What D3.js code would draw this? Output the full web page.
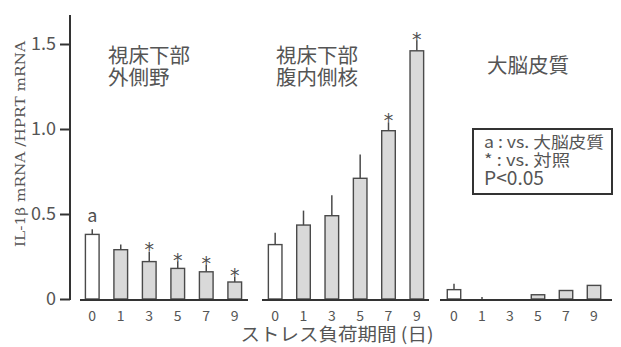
<!DOCTYPE html>
<html>
<head>
<meta charset="utf-8">
<script src="https://cdn.jsdelivr.net/npm/d3@7"></script>
<style>
  html, body { margin: 0; padding: 0; background: #fff; }
  svg { display: block; }
</style>
</head>
<body>
<svg id="chart" width="621" height="347"></svg>
<script>
// Stress duration (days)
const days = ["0", "1", "3", "5", "7", "9"];

// IL-1β mRNA / HPRT mRNA, mean and SE per region
const lateralMean = [0.38, 0.29, 0.22, 0.18, 0.16, 0.10];
const lateralErr  = [0.03, 0.03, 0.06, 0.04, 0.04, 0.03];
const lateralSig  = ["a", "", "*", "*", "*", "*"];

const vmhMean = [0.32, 0.435, 0.49, 0.71, 0.99, 1.46];
const vmhErr  = [0.07, 0.085, 0.12, 0.14, 0.05, 0.06];
const vmhSig  = ["", "", "", "", "*", "*"];

const cortexMean = [0.055, 0.0, 0.0, 0.025, 0.05, 0.08];
const cortexErr  = [0.035, 0.012, 0.0, 0.0, 0.0, 0.0];
const cortexSig  = ["", "", "", "", "", ""];

const yTicks = [0, 0.5, 1.0, 1.5];
const yTickLabels = ["0", "0.5", "1.0", "1.5"];

const regionTitles = [["視床下部", "外側野"], ["視床下部", "腹内側核"], ["大脳皮質"]];
const legendLines = ["a : vs. 大脳皮質", "* : vs. 対照", "P<0.05"];
const xTitle = "ストレス負荷期間 (日)";
const yTitle = "IL-1β mRNA /HPRT mRNA";

const groups = [
  { mean: lateralMean, err: lateralErr, sig: lateralSig, title: regionTitles[0],
    range: [78, 249], base: [80, 248], titleX: 108, titleY: 63 },
  { mean: vmhMean, err: vmhErr, sig: vmhSig, title: regionTitles[1],
    range: [261, 431], base: [262, 429], titleX: 276, titleY: 63 },
  { mean: cortexMean, err: cortexErr, sig: cortexSig, title: regionTitles[2],
    range: [440, 608], base: [440, 612], titleX: 487, titleY: 73 }
];

const textColor = "#555";
const axisColor = "#333";
const sansFont = "'Noto Sans CJK JP', 'Noto Sans', sans-serif";

const svg = d3.select("#chart");
const y = d3.scaleLinear().domain([0, 1.5]).range([299, 44]);

// Y axis
const yAxisX = 70;
const yAxis = svg.append("g")
  .attr("transform", `translate(${yAxisX},0)`)
  .call(d3.axisLeft(y).tickValues(yTicks)
    .tickFormat((d, i) => yTickLabels[i]).tickSize(10).tickPadding(4));
yAxis.select(".domain").remove();
yAxis.selectAll(".tick line").attr("stroke", axisColor).attr("stroke-width", 2);
yAxis.selectAll(".tick text")
  .attr("fill", textColor)
  .style("font-family", sansFont)
  .style("font-size", "18px");
svg.append("line")
  .attr("x1", yAxisX).attr("x2", yAxisX)
  .attr("y1", y(0) + 1).attr("y2", 15)
  .attr("stroke", axisColor).attr("stroke-width", 2);

// Y axis title
svg.append("text")
  .attr("transform", `translate(25,${144}) rotate(-90)`)
  .attr("text-anchor", "middle")
  .attr("fill", textColor)
  .attr("textLength", 206)
  .attr("lengthAdjust", "spacingAndGlyphs")
  .style("font-family", "'DejaVu Serif', 'Liberation Serif', serif")
  .style("font-size", "13px")
  .text(yTitle);

groups.forEach((g, gi) => {
  const x = d3.scaleBand().domain(days).range(g.range)
    .paddingInner(0.52).paddingOuter(0.26);
  const layer = svg.append("g");

  // Bars
  layer.selectAll("rect.bar")
    .data(days.filter((d, i) => g.mean[i] > 0))
    .join("rect")
    .attr("class", "bar")
    .attr("x", d => x(d))
    .attr("width", x.bandwidth())
    .attr("y", d => y(g.mean[days.indexOf(d)]))
    .attr("height", d => y(0) - y(g.mean[days.indexOf(d)]))
    .attr("fill", d => d === "0" ? "#ffffff" : "#d9d9d9")
    .attr("stroke", "#4a4a4a")
    .attr("stroke-width", 1.4);

  // Error bars (upper half only)
  layer.selectAll("line.err")
    .data(days.filter((d, i) => g.err[i] > 0))
    .join("line")
    .attr("class", "err")
    .attr("x1", d => x(d) + x.bandwidth() / 2)
    .attr("x2", d => x(d) + x.bandwidth() / 2)
    .attr("y1", d => y(g.mean[days.indexOf(d)]))
    .attr("y2", d => y(g.mean[days.indexOf(d)] + g.err[days.indexOf(d)]))
    .attr("stroke", "#4a4a4a")
    .attr("stroke-width", 1.5);

  // Significance marks
  layer.selectAll("text.sig")
    .data(days.filter((d, i) => g.sig[i] !== ""))
    .join("text")
    .attr("class", "sig")
    .attr("x", d => x(d) + x.bandwidth() / 2)
    .attr("y", d => {
      const i = days.indexOf(d);
      const top = y(g.mean[i] + g.err[i]);
      return g.sig[i] === "a" ? top - 7 : top + 5;
    })
    .attr("text-anchor", "middle")
    .attr("fill", "#505050")
    .style("font-family", d => g.sig[days.indexOf(d)] === "a" ? sansFont : "'DejaVu Sans', sans-serif")
    .style("font-size", d => g.sig[days.indexOf(d)] === "a" ? "18px" : "19px")
    .text(d => g.sig[days.indexOf(d)]);

  // Baseline
  layer.append("line")
    .attr("x1", g.base[0]).attr("x2", g.base[1])
    .attr("y1", y(0) + 1).attr("y2", y(0) + 1)
    .attr("stroke", axisColor).attr("stroke-width", 2);

  // Day labels
  layer.selectAll("text.day")
    .data(days)
    .join("text")
    .attr("class", "day")
    .attr("x", d => x(d) + x.bandwidth() / 2)
    .attr("y", 321)
    .attr("text-anchor", "middle")
    .attr("fill", textColor)
    .style("font-family", sansFont)
    .style("font-size", "14px")
    .text(d => d);

  // Region title (one text block, one tspan per line)
  layer.append("text")
    .attr("class", "title")
    .attr("x", g.titleX)
    .attr("y", g.titleY)
    .attr("fill", textColor)
    .style("font-family", sansFont)
    .style("font-size", "20.5px")
    .selectAll("tspan")
    .data(g.title)
    .join("tspan")
    .attr("x", g.titleX)
    .attr("dy", (d, i) => i === 0 ? 0 : 22)
    .text(d => d);
});

// X axis title
svg.append("text")
  .attr("x", 337).attr("y", 341)
  .attr("text-anchor", "middle")
  .attr("fill", textColor)
  .attr("textLength", 193)
  .attr("lengthAdjust", "spacingAndGlyphs")
  .style("font-family", sansFont)
  .style("font-size", "18px")
  .text(xTitle);

// Legend box
const legend = svg.append("g");
legend.append("rect")
  .attr("x", 473).attr("y", 129).attr("width", 139).attr("height", 65)
  .attr("fill", "#fff").attr("stroke", axisColor).attr("stroke-width", 2);
legend.append("text")
  .attr("x", 484)
  .attr("y", 148)
  .attr("fill", textColor)
  .style("font-family", sansFont)
  .selectAll("tspan")
  .data(legendLines)
  .join("tspan")
  .attr("x", 484)
  .attr("y", (d, i) => [148, 166, 185][i])
  .attr("textLength", (d, i) => [120, 86, 60][i])
  .attr("lengthAdjust", "spacingAndGlyphs")
  .style("font-size", (d, i) => i === 2 ? "19px" : "16px")
  .text(d => d);
</script>
</body>
</html>
